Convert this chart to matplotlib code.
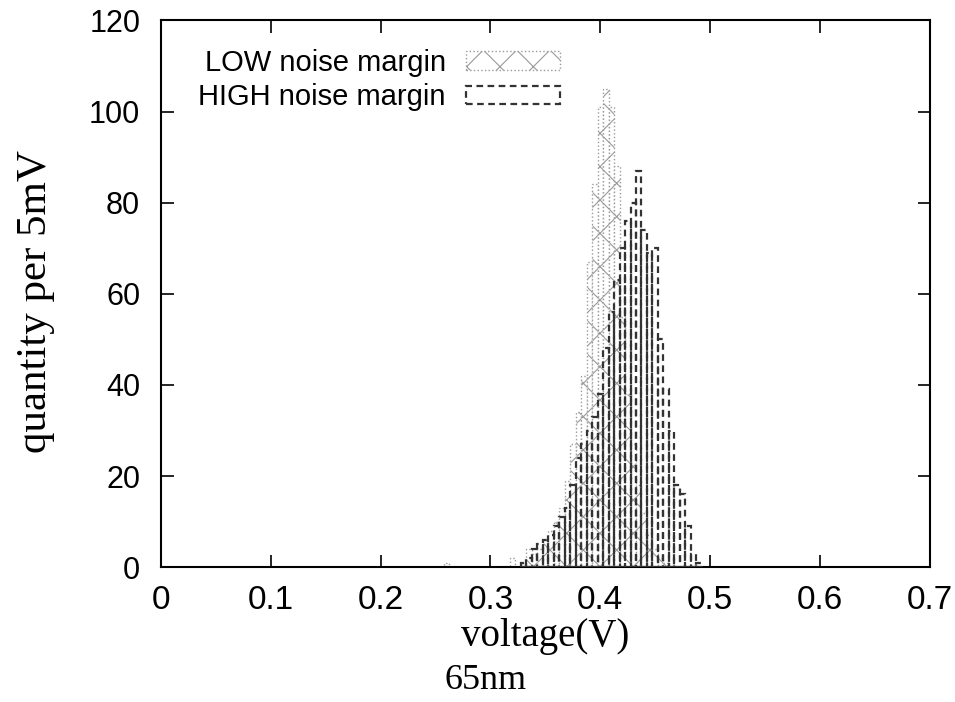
import numpy as np
import matplotlib
matplotlib.use("Agg")
import matplotlib.pyplot as plt

# bin centres (V), 5 mV bins
volts = [0.260,
         0.320, 0.325, 0.330, 0.335, 0.340, 0.345, 0.350, 0.355, 0.360,
         0.365, 0.370, 0.375, 0.380, 0.385, 0.390, 0.395, 0.400, 0.405,
         0.410, 0.415, 0.420, 0.425, 0.430, 0.435, 0.440, 0.445, 0.450,
         0.455, 0.460, 0.465, 0.470, 0.475, 0.480, 0.485, 0.490]

low_counts = [1,
              2, 0, 1, 4, 3, 4, 6, 8, 10,
              13, 19, 27, 34, 42, 67, 84, 101, 105,
              101, 88, 55, 38, 27, 18, 12, 7, 4,
              2, 1, 0, 0, 0, 0, 0, 0]

high_counts = [0,
               0, 0, 1, 2, 4, 5, 6, 7, 9,
               11, 13, 18, 24, 27, 30, 33, 38, 48,
               56, 63, 70, 76, 80, 87, 74, 69, 70,
               50, 39, 30, 18, 16, 9, 3, 1]

bin_width = 0.005
x_ticks = [0, 0.1, 0.2, 0.3, 0.4, 0.5, 0.6, 0.7]
x_tick_labels = ["0", "0.1", "0.2", "0.3", "0.4", "0.5", "0.6", "0.7"]
y_ticks = [0, 20, 40, 60, 80, 100, 120]

volts = np.array(volts)
low_counts = np.array(low_counts)
high_counts = np.array(high_counts)

fig = plt.figure(figsize=(9.55, 7.02), dpi=100)
ax = fig.add_axes([0.1686, 0.192, 0.805, 0.779])

plt.rcParams["hatch.linewidth"] = 0.8

low_mask = low_counts > 0
low_bars = ax.bar(volts[low_mask], low_counts[low_mask], width=bin_width,
                  facecolor="white", edgecolor="#9a9a9a", linestyle=":",
                  linewidth=1.0, hatch="x", label="LOW noise margin", zorder=2)

high_mask = high_counts > 0
high_bars = ax.bar(volts[high_mask], high_counts[high_mask], width=bin_width,
                   fill=False, edgecolor="#333333", linestyle=(0, (3, 2)),
                   linewidth=1.6, label="HIGH noise margin", zorder=3)

ax.set_xlim(0, 0.7)
ax.set_ylim(0, 120)
ax.set_xticks(x_ticks)
ax.set_yticks(y_ticks)

sans = ["Liberation Sans", "DejaVu Sans"]
ax.set_xticklabels(x_tick_labels, family=sans, fontsize=24)
for lbl in ax.get_yticklabels():
    lbl.set_family(sans)
    lbl.set_fontsize(22)

ax.tick_params(axis="both", direction="in", length=9, width=1.2,
               top=True, right=True)
ax.tick_params(axis="x", pad=13)
ax.tick_params(axis="y", pad=15)
for sp in ax.spines.values():
    sp.set_linewidth(1.5)

serif = ["Liberation Serif", "DejaVu Serif"]
ax.set_xlabel("voltage(V)", family=serif, fontsize=28, va="center")
ax.xaxis.set_label_coords(0.5, -0.126)
ax.set_ylabel("quantity per 5mV", family=serif, fontsize=31, va="center")
ax.yaxis.set_label_coords(-0.163, 0.485)
fig.text(0.508, 0.0313, "65nm", family=serif, fontsize=26,
         ha="center", va="center")

leg = ax.legend(handles=[low_bars, high_bars], loc="upper right",
                bbox_to_anchor=(0.545, 0.985), frameon=False,
                markerfirst=False, handlelength=3.2, handleheight=0.6,
                handletextpad=0.7, labelspacing=0.22, borderpad=0.2,
                prop={"family": sans, "size": 21})

fig.savefig("out.png", dpi=100)
